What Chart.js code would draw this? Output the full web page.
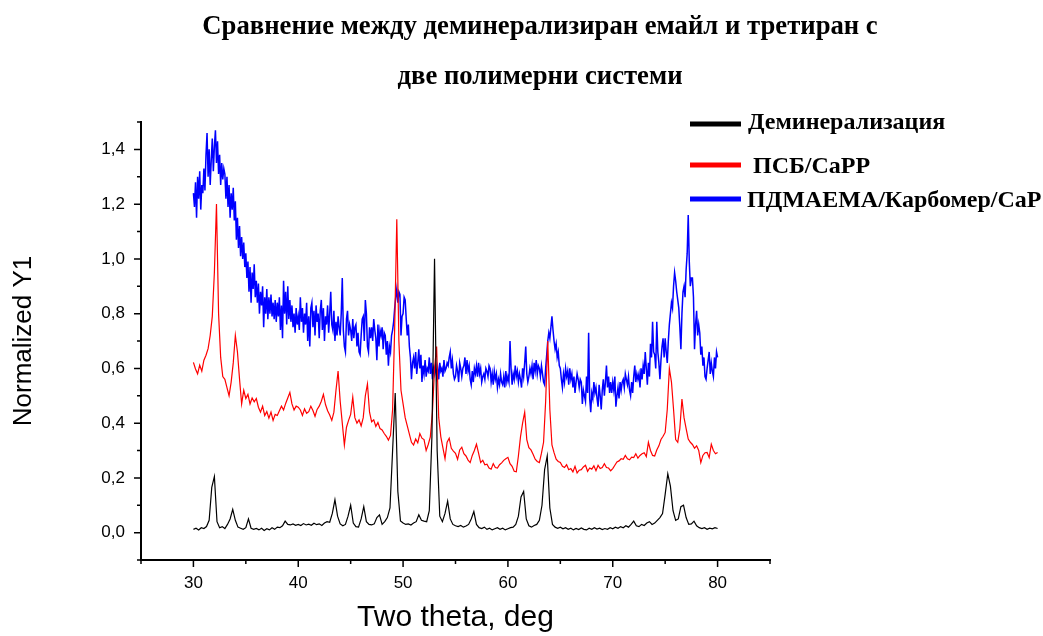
<!DOCTYPE html>
<html lang="bg">
<head>
<meta charset="utf-8">
<title>Сравнение между деминерализиран емайл и третиран с две полимерни системи</title>
<script src="https://cdn.jsdelivr.net/npm/chart.js@4.4.1/dist/chart.umd.min.js"></script>
<style>
  html, body { margin: 0; padding: 0; background: #fff; }
  #wrap { width: 1043px; height: 636px; position: relative; }
</style>
</head>
<body>
<div id="wrap"><canvas id="xrd" width="1043" height="636"></canvas></div>
<script>
// XRD scans from 30 to 80 deg two theta; each sample has its own step
const scanStart = 30;
const stepDemineralized = 0.25;
const stepPsb = 0.2;
const stepPdmaema = 0.1;

const titleLines = ['Сравнение между деминерализиран емайл и третиран с', 'две полимерни системи'];
const seriesNames = ['Деминерализация', 'ПСБ/CaPP', 'ПДМАЕМА/Карбомер/CaP'];
const seriesColors = ['#000000', '#ff0000', '#0000ff'];

const xMajorTicks = [30, 40, 50, 60, 70, 80];
const xMinorTicks = [25, 35, 45, 55, 65, 75, 85];
const yMajorTicks = [0, 0.2, 0.4, 0.6, 0.8, 1.0, 1.2, 1.4];
const yMinorTicks = [-0.1, 0.1, 0.3, 0.5, 0.7, 0.9, 1.1, 1.3, 1.5];

// Normalized intensity, one row per degree (x.00, x.25, x.50, x.75)
const demineralized = [
  0.012, 0.016, 0.010, 0.018,
  0.015, 0.022, 0.045, 0.165,
  0.205, 0.040, 0.018, 0.022,
  0.015, 0.030, 0.050, 0.085,
  0.045, 0.020, 0.016, 0.012,
  0.018, 0.050, 0.016, 0.012,
  0.015, 0.010, 0.016, 0.008,
  0.014, 0.010, 0.018, 0.012,
  0.020, 0.018, 0.025, 0.042,
  0.030, 0.028, 0.032, 0.027,
  0.030, 0.026, 0.033, 0.028,
  0.031, 0.027, 0.034, 0.029,
  0.032, 0.026, 0.035, 0.040,
  0.038, 0.070, 0.120, 0.060,
  0.032, 0.025, 0.030, 0.060,
  0.100, 0.035, 0.022, 0.020,
  0.050, 0.095, 0.040, 0.030,
  0.028, 0.032, 0.055, 0.065,
  0.030, 0.040, 0.055, 0.090,
  0.300, 0.510, 0.150, 0.043,
  0.035, 0.030, 0.032, 0.028,
  0.035, 0.040, 0.065, 0.045,
  0.042, 0.040, 0.080, 0.350,
  1.000, 0.300, 0.060, 0.040,
  0.070, 0.115, 0.050, 0.030,
  0.025, 0.022, 0.026, 0.020,
  0.024, 0.030, 0.050, 0.077,
  0.030, 0.018, 0.015, 0.020,
  0.012, 0.016, 0.010, 0.014,
  0.018, 0.012, 0.016, 0.010,
  0.014, 0.018, 0.020, 0.030,
  0.060, 0.130, 0.150, 0.050,
  0.025, 0.020, 0.026, 0.030,
  0.045, 0.100, 0.230, 0.280,
  0.090, 0.030, 0.020, 0.016,
  0.020, 0.014, 0.018, 0.012,
  0.016, 0.010, 0.015, 0.011,
  0.017, 0.012, 0.010, 0.016,
  0.012, 0.018, 0.013, 0.016,
  0.011, 0.015, 0.012, 0.018,
  0.014, 0.020, 0.016, 0.022,
  0.018, 0.025, 0.020, 0.030,
  0.042, 0.025, 0.022, 0.030,
  0.026, 0.035, 0.040, 0.030,
  0.035, 0.045, 0.055, 0.070,
  0.140, 0.215, 0.170, 0.080,
  0.045, 0.050, 0.095, 0.100,
  0.055, 0.030, 0.032, 0.042,
  0.025, 0.018, 0.015, 0.018,
  0.012, 0.016, 0.014, 0.018,
  0.015
];

// One row per degree (x.0, x.2, x.4, x.6, x.8)
const psbCapp = [
  0.622, 0.598, 0.580, 0.612, 0.590,
  0.630, 0.648, 0.672, 0.720, 0.790,
  0.950, 1.200, 0.800, 0.640, 0.570,
  0.560, 0.530, 0.500, 0.550, 0.620,
  0.720, 0.660, 0.560, 0.470, 0.520,
  0.490, 0.505, 0.470, 0.492, 0.478,
  0.490, 0.458, 0.440, 0.462, 0.428,
  0.442, 0.418, 0.440, 0.410, 0.432,
  0.428, 0.445, 0.462, 0.448, 0.472,
  0.492, 0.512, 0.470, 0.448, 0.462,
  0.458, 0.448, 0.428, 0.452, 0.436,
  0.442, 0.462, 0.446, 0.425, 0.450,
  0.462, 0.480, 0.505, 0.468, 0.445,
  0.430, 0.410, 0.440, 0.520, 0.590,
  0.480, 0.400, 0.320, 0.385, 0.410,
  0.432, 0.495, 0.420, 0.400, 0.412,
  0.390, 0.420, 0.500, 0.543, 0.440,
  0.405, 0.412, 0.388, 0.402, 0.380,
  0.375, 0.362, 0.352, 0.338, 0.355,
  0.450, 0.750, 1.145, 0.700, 0.520,
  0.470, 0.420, 0.390, 0.360, 0.330,
  0.320, 0.342, 0.328, 0.362, 0.345,
  0.340, 0.300, 0.322, 0.350, 0.440,
  0.600, 0.680, 0.420, 0.350, 0.310,
  0.270, 0.330, 0.345, 0.308, 0.298,
  0.290, 0.268, 0.302, 0.312, 0.288,
  0.280, 0.265, 0.256, 0.282, 0.300,
  0.323, 0.290, 0.256, 0.264, 0.248,
  0.250, 0.236, 0.232, 0.252, 0.238,
  0.236, 0.248, 0.255, 0.264, 0.270,
  0.275, 0.252, 0.242, 0.224, 0.222,
  0.280, 0.350, 0.400, 0.440, 0.340,
  0.310, 0.302, 0.286, 0.268, 0.260,
  0.256, 0.290, 0.330, 0.480, 0.700,
  0.450, 0.320, 0.292, 0.268, 0.260,
  0.256, 0.242, 0.238, 0.248, 0.230,
  0.234, 0.222, 0.242, 0.218, 0.228,
  0.230, 0.240, 0.246, 0.224, 0.236,
  0.232, 0.244, 0.226, 0.246, 0.234,
  0.238, 0.252, 0.238, 0.236, 0.226,
  0.234, 0.246, 0.258, 0.262, 0.270,
  0.268, 0.282, 0.270, 0.266, 0.276,
  0.274, 0.288, 0.272, 0.282, 0.288,
  0.292, 0.278, 0.330, 0.300, 0.282,
  0.280, 0.302, 0.317, 0.340, 0.352,
  0.366, 0.450, 0.600, 0.550, 0.450,
  0.340, 0.330, 0.380, 0.488, 0.420,
  0.380, 0.342, 0.330, 0.322, 0.308,
  0.317, 0.300, 0.256, 0.282, 0.292,
  0.293, 0.274, 0.323, 0.300, 0.288,
  0.293
];

// One row per degree (x.0 ... x.9)
const pdmaemaCarbomer = [
  1.24, 1.19, 1.28, 1.15, 1.30, 1.22, 1.32, 1.18, 1.27, 1.24,
  1.33, 1.25, 1.38, 1.46, 1.30, 1.40, 1.27, 1.36, 1.44, 1.32,
  1.41, 1.47, 1.35, 1.43, 1.31, 1.38, 1.27, 1.35, 1.29, 1.33,
  1.31, 1.22, 1.30, 1.19, 1.27, 1.15, 1.24, 1.18, 1.26, 1.14,
  1.21, 1.07, 1.15, 1.04, 1.12, 1.01, 1.08, 1.00, 1.06, 0.97,
  1.02, 0.93, 0.99, 0.88, 0.97, 0.84, 0.95, 0.89, 0.98, 0.86,
  0.92, 0.84, 0.91, 0.80, 0.88, 0.83, 0.90, 0.75, 0.86, 0.80,
  0.89, 0.78, 0.86, 0.80, 0.87, 0.79, 0.84, 0.78, 0.85, 0.77,
  0.84, 0.79, 0.86, 0.74, 0.83, 0.71, 0.92, 0.80, 0.88, 0.76,
  0.90, 0.78, 0.85, 0.77, 0.83, 0.75, 0.80, 0.73, 0.82, 0.76,
  0.79, 0.74, 0.86, 0.77, 0.82, 0.73, 0.80, 0.76, 0.84, 0.70,
  0.79, 0.68, 0.82, 0.84, 0.75, 0.81, 0.72, 0.83, 0.77, 0.80,
  0.71, 0.81, 0.85, 0.74, 0.82, 0.70, 0.79, 0.76, 0.83, 0.73,
  0.80, 0.88, 0.76, 0.74, 0.81, 0.70, 0.77, 0.72, 0.79, 0.75,
  0.72, 0.80, 0.93, 0.74, 0.68, 0.66, 0.78, 0.81, 0.72, 0.76,
  0.74, 0.70, 0.78, 0.71, 0.75, 0.76, 0.68, 0.73, 0.66, 0.65,
  0.72, 0.78, 0.79, 0.70, 0.85, 0.80, 0.68, 0.66, 0.75, 0.71,
  0.75, 0.70, 0.78, 0.74, 0.71, 0.63, 0.76, 0.68, 0.74, 0.72,
  0.75, 0.67, 0.73, 0.72, 0.65, 0.70, 0.61, 0.68, 0.66, 0.72,
  0.74, 0.77, 0.82, 0.86, 0.89, 0.84, 0.88, 0.87, 0.72, 0.79,
  0.80, 0.86, 0.85, 0.78, 0.72, 0.76, 0.68, 0.64, 0.56, 0.62,
  0.64, 0.60, 0.66, 0.58, 0.62, 0.67, 0.60, 0.65, 0.55, 0.61,
  0.58, 0.63, 0.57, 0.60, 0.59, 0.64, 0.58, 0.62, 0.56, 0.60,
  0.58, 0.61, 0.57, 0.60, 0.56, 0.62, 0.59, 0.60, 0.57, 0.63,
  0.59, 0.60, 0.62, 0.61, 0.64, 0.66, 0.60, 0.63, 0.58, 0.56,
  0.57, 0.61, 0.59, 0.55, 0.62, 0.60, 0.57, 0.60, 0.61, 0.64,
  0.58, 0.63, 0.59, 0.61, 0.56, 0.54, 0.59, 0.55, 0.60, 0.58,
  0.61, 0.57, 0.62, 0.58, 0.60, 0.55, 0.57, 0.58, 0.56, 0.60,
  0.59, 0.57, 0.61, 0.60, 0.55, 0.58, 0.54, 0.59, 0.56, 0.58,
  0.53, 0.56, 0.54, 0.58, 0.55, 0.54, 0.57, 0.53, 0.59, 0.55,
  0.57, 0.55, 0.70, 0.60, 0.54, 0.58, 0.56, 0.61, 0.57, 0.59,
  0.55, 0.58, 0.56, 0.53, 0.60, 0.57, 0.62, 0.68, 0.58, 0.55,
  0.57, 0.60, 0.58, 0.61, 0.56, 0.62, 0.59, 0.63, 0.58, 0.61,
  0.60, 0.57, 0.61, 0.58, 0.55, 0.54, 0.60, 0.65, 0.70, 0.73,
  0.71, 0.75, 0.79, 0.74, 0.70, 0.67, 0.69, 0.64, 0.66, 0.61,
  0.60, 0.56, 0.53, 0.58, 0.55, 0.60, 0.57, 0.59, 0.54, 0.60,
  0.56, 0.58, 0.53, 0.57, 0.51, 0.55, 0.58, 0.56, 0.53, 0.56,
  0.55, 0.47, 0.52, 0.50, 0.48, 0.57, 0.51, 0.73, 0.49, 0.44,
  0.51, 0.49, 0.55, 0.51, 0.53, 0.49, 0.46, 0.54, 0.50, 0.45,
  0.52, 0.56, 0.50, 0.55, 0.61, 0.53, 0.57, 0.51, 0.55, 0.51,
  0.55, 0.52, 0.57, 0.46, 0.50, 0.53, 0.49, 0.55, 0.52, 0.55,
  0.56, 0.53, 0.58, 0.56, 0.54, 0.57, 0.52, 0.50, 0.55, 0.51,
  0.57, 0.61, 0.55, 0.58, 0.56, 0.58, 0.53, 0.60, 0.56, 0.61,
  0.58, 0.66, 0.60, 0.54, 0.62, 0.57, 0.69, 0.64, 0.77, 0.66,
  0.65, 0.60, 0.77, 0.66, 0.62, 0.56, 0.63, 0.68, 0.71, 0.64,
  0.71, 0.66, 0.62, 0.70, 0.76, 0.80, 0.84, 0.82, 0.90, 0.95,
  0.92, 0.88, 0.85, 0.82, 0.75, 0.67, 0.80, 0.88, 0.90, 0.86,
  0.96, 1.02, 1.16, 0.99, 0.90, 0.93, 0.93, 0.86, 0.67, 0.76,
  0.81, 0.72, 0.76, 0.73, 0.65, 0.68, 0.61, 0.64, 0.57, 0.56,
  0.60, 0.63, 0.66, 0.58, 0.62, 0.59, 0.57, 0.64, 0.60, 0.66,
  0.64
];

const scanAxis = (values, step) => values.map((_, i) => +(scanStart + i * step).toFixed(2));
const toPoints = (values, step) => {
  const theta = scanAxis(values, step);
  return values.map((v, i) => ({ x: theta[i], y: v }));
};

const sans = '"Liberation Sans", Arial, sans-serif';
const serif = '"Liberation Serif", "Times New Roman", serif';

// Title, hand-placed legend and the outward major/minor tick marks
const decorations = {
  id: 'decorations',
  afterDraw(chart) {
    const { ctx, scales: { x, y }, chartArea } = chart;
    ctx.save();

    ctx.strokeStyle = '#000';
    ctx.lineWidth = 1.5;
    ctx.beginPath();
    xMajorTicks.forEach(v => { const px = x.getPixelForValue(v); ctx.moveTo(px, chartArea.bottom); ctx.lineTo(px, chartArea.bottom + 7); });
    xMinorTicks.forEach(v => { const px = x.getPixelForValue(v); ctx.moveTo(px, chartArea.bottom); ctx.lineTo(px, chartArea.bottom + 4); });
    yMajorTicks.forEach(v => { const py = y.getPixelForValue(v); ctx.moveTo(chartArea.left, py); ctx.lineTo(chartArea.left - 7, py); });
    yMinorTicks.forEach(v => { const py = y.getPixelForValue(v); ctx.moveTo(chartArea.left, py); ctx.lineTo(chartArea.left - 4, py); });
    ctx.stroke();

    ctx.fillStyle = '#000';
    ctx.textAlign = 'center';
    ctx.textBaseline = 'alphabetic';
    ctx.font = 'bold 26.7px ' + serif;
    ctx.fillText(titleLines[0], 540, 34);
    ctx.fillText(titleLines[1], 540, 84);

    const legendRows = [
      { y: 124, textX: 748, base: 129 },
      { y: 165, textX: 753, base: 173 },
      { y: 199, textX: 747, base: 207 }
    ];
    ctx.textAlign = 'left';
    ctx.font = 'bold 24px ' + serif;
    legendRows.forEach((row, i) => {
      ctx.fillStyle = seriesColors[i];
      ctx.fillRect(690, row.y - 2.5, 51, 5);
      ctx.fillStyle = '#000';
      ctx.fillText(seriesNames[i], row.textX, row.base);
    });
    ctx.restore();
  }
};

new Chart(document.getElementById('xrd'), {
  type: 'line',
  data: {
    datasets: [
      { label: seriesNames[0], data: toPoints(demineralized, stepDemineralized), borderColor: seriesColors[0], borderWidth: 1.2 },
      { label: seriesNames[1], data: toPoints(psbCapp, stepPsb), borderColor: seriesColors[1], borderWidth: 1.2 },
      { label: seriesNames[2], data: toPoints(pdmaemaCarbomer, stepPdmaema), borderColor: seriesColors[2], borderWidth: 1.5 }
    ]
  },
  options: {
    responsive: false,
    animation: false,
    events: [],
    elements: { point: { radius: 0 }, line: { tension: 0, fill: false } },
    layout: { padding: { left: 0, top: 122, right: 273, bottom: 0 } },
    plugins: { legend: { display: false }, title: { display: false }, tooltip: { enabled: false } },
    scales: {
      x: {
        type: 'linear',
        min: 25,
        max: 85,
        afterBuildTicks: s => { s.ticks = xMajorTicks.map(v => ({ value: v })); },
        afterFit: s => { s.height = 76; },
        grid: { drawOnChartArea: false, drawTicks: false },
        border: { display: true, color: '#000', width: 2 },
        ticks: { color: '#000', padding: 13, maxRotation: 0, font: { family: sans, size: 17 } },
        title: { display: true, text: 'Two theta, deg', color: '#000', padding: { top: 0, bottom: 0 }, font: { family: sans, size: 30 } }
      },
      y: {
        type: 'linear',
        min: -0.1,
        max: 1.5,
        afterBuildTicks: s => { s.ticks = yMajorTicks.map(v => ({ value: v })); },
        afterFit: s => { s.width = 141; },
        grid: { drawOnChartArea: false, drawTicks: false },
        border: { display: true, color: '#000', width: 2 },
        ticks: { color: '#000', padding: 16, font: { family: sans, size: 17 }, callback: v => v.toFixed(1).replace('.', ',') },
        title: { display: true, text: 'Normalized Y1', color: '#000', padding: { top: 8, bottom: 0 }, font: { family: sans, size: 26 } }
      }
    }
  },
  plugins: [decorations]
});
</script>
</body>
</html>
